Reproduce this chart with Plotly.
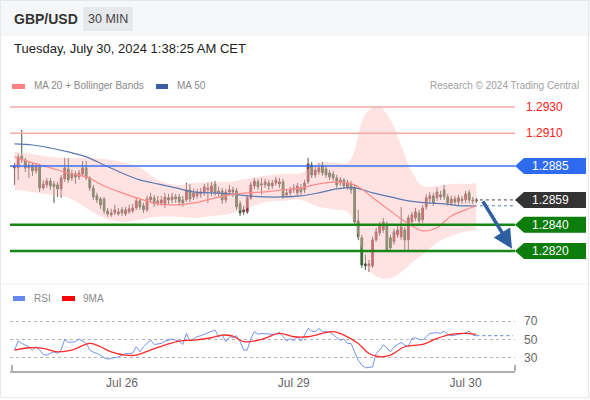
import plotly.graph_objects as go

W, H = 590, 400

# 30 min candles, Jul 25 ~09:00 -> Jul 30 01:30
opens = [1.28835, 1.28835, 1.28926, 1.28896, 1.28835, 1.28857, 1.28812, 1.28850, 1.28682, 1.28705,
         1.28735, 1.28712, 1.28705, 1.28674, 1.28751, 1.28827, 1.28758, 1.28789, 1.28766, 1.28789,
         1.28835, 1.28758, 1.28682, 1.28621, 1.28598, 1.28598, 1.28506, 1.28476, 1.28491, 1.28483,
         1.28514, 1.28483, 1.28499, 1.28506, 1.28529, 1.28583, 1.28545, 1.28514, 1.28590, 1.28606,
         1.28567, 1.28567, 1.28560, 1.28606, 1.28590, 1.28613, 1.28613, 1.28590, 1.28590, 1.28667,
         1.28613, 1.28621, 1.28636, 1.28644, 1.28667, 1.28651, 1.28712, 1.28644, 1.28659, 1.28590,
         1.28651, 1.28667, 1.28659, 1.28560, 1.28499, 1.28499, 1.28606, 1.28697, 1.28728, 1.28705,
         1.28705, 1.28720, 1.28697, 1.28720, 1.28712, 1.28728, 1.28629, 1.28644, 1.28667, 1.28644,
         1.28682, 1.28667, 1.28728, 1.28857, 1.28781, 1.28804, 1.28857, 1.28827, 1.28796, 1.28789,
         1.28758, 1.28720, 1.28743, 1.28690, 1.28712, 1.28682, 1.28430, 1.28300, 1.28101, 1.28086,
         1.28086, 1.28285, 1.28338, 1.28361, 1.28399, 1.28300, 1.28270, 1.28323, 1.28308, 1.28361,
         1.28285, 1.28422, 1.28453, 1.28491, 1.28438, 1.28537, 1.28598, 1.28621, 1.28606, 1.28629,
         1.28667, 1.28613, 1.28567, 1.28598, 1.28575, 1.28598, 1.28590, 1.28644, 1.28590, 1.28583]
highs = [1.28873, 1.28941, 1.29125, 1.28911, 1.28880, 1.28873, 1.28873, 1.28865, 1.28743, 1.28758,
         1.28758, 1.28735, 1.28728, 1.28781, 1.28911, 1.28911, 1.28819, 1.28812, 1.28819, 1.28888,
         1.28888, 1.28774, 1.28705, 1.28644, 1.28613, 1.28613, 1.28529, 1.28522, 1.28552, 1.28529,
         1.28537, 1.28537, 1.28552, 1.28560, 1.28606, 1.28598, 1.28567, 1.28621, 1.28644, 1.28629,
         1.28621, 1.28621, 1.28644, 1.28636, 1.28644, 1.28636, 1.28636, 1.28621, 1.28720, 1.28712,
         1.28674, 1.28674, 1.28682, 1.28712, 1.28720, 1.28728, 1.28735, 1.28690, 1.28682, 1.28674,
         1.28705, 1.28690, 1.28682, 1.28583, 1.28545, 1.28629, 1.28728, 1.28758, 1.28751, 1.28758,
         1.28751, 1.28743, 1.28743, 1.28766, 1.28758, 1.28751, 1.28667, 1.28690, 1.28712, 1.28720,
         1.28712, 1.28743, 1.28911, 1.28880, 1.28850, 1.28873, 1.28880, 1.28850, 1.28819, 1.28812,
         1.28781, 1.28766, 1.28758, 1.28743, 1.28735, 1.28705, 1.28514, 1.28323, 1.28170, 1.28132,
         1.28308, 1.28377, 1.28422, 1.28453, 1.28422, 1.28323, 1.28369, 1.28392, 1.28537, 1.28384,
         1.28476, 1.28499, 1.28529, 1.28514, 1.28552, 1.28636, 1.28651, 1.28644, 1.28682, 1.28659,
         1.28705, 1.28636, 1.28621, 1.28621, 1.28629, 1.28621, 1.28659, 1.28667, 1.28613, 1.28606]
lows = [1.28705, 1.28743, 1.28873, 1.28804, 1.28758, 1.28774, 1.28789, 1.28651, 1.28667, 1.28682,
        1.28667, 1.28567, 1.28613, 1.28606, 1.28728, 1.28720, 1.28735, 1.28712, 1.28743, 1.28766,
        1.28743, 1.28659, 1.28590, 1.28567, 1.28522, 1.28483, 1.28461, 1.28461, 1.28476, 1.28468,
        1.28468, 1.28468, 1.28483, 1.28491, 1.28514, 1.28514, 1.28491, 1.28499, 1.28567, 1.28537,
        1.28545, 1.28545, 1.28529, 1.28560, 1.28567, 1.28567, 1.28545, 1.28537, 1.28575, 1.28575,
        1.28590, 1.28598, 1.28606, 1.28621, 1.28567, 1.28621, 1.28621, 1.28613, 1.28560, 1.28567,
        1.28621, 1.28613, 1.28514, 1.28468, 1.28476, 1.28483, 1.28590, 1.28674, 1.28667, 1.28629,
        1.28682, 1.28667, 1.28674, 1.28697, 1.28682, 1.28598, 1.28606, 1.28621, 1.28644, 1.28621,
        1.28629, 1.28644, 1.28712, 1.28758, 1.28758, 1.28781, 1.28774, 1.28758, 1.28743, 1.28735,
        1.28682, 1.28697, 1.28674, 1.28667, 1.28636, 1.28399, 1.28285, 1.28070, 1.28055, 1.28040,
        1.28070, 1.28270, 1.28316, 1.28338, 1.28193, 1.28209, 1.28247, 1.28300, 1.28285, 1.28209,
        1.28209, 1.28399, 1.28430, 1.28407, 1.28415, 1.28514, 1.28567, 1.28545, 1.28583, 1.28590,
        1.28590, 1.28545, 1.28545, 1.28552, 1.28552, 1.28560, 1.28567, 1.28567, 1.28560, 1.28567]
closes = [1.28850, 1.28919, 1.28896, 1.28835, 1.28857, 1.28812, 1.28850, 1.28682, 1.28712, 1.28735,
          1.28697, 1.28690, 1.28674, 1.28758, 1.28835, 1.28743, 1.28789, 1.28766, 1.28796, 1.28835,
          1.28758, 1.28682, 1.28613, 1.28590, 1.28552, 1.28506, 1.28483, 1.28491, 1.28514, 1.28499,
          1.28491, 1.28514, 1.28522, 1.28529, 1.28583, 1.28537, 1.28514, 1.28598, 1.28613, 1.28560,
          1.28583, 1.28590, 1.28613, 1.28590, 1.28613, 1.28598, 1.28575, 1.28567, 1.28667, 1.28598,
          1.28644, 1.28644, 1.28651, 1.28690, 1.28682, 1.28697, 1.28644, 1.28659, 1.28590, 1.28651,
          1.28667, 1.28651, 1.28537, 1.28491, 1.28514, 1.28606, 1.28705, 1.28735, 1.28690, 1.28712,
          1.28728, 1.28697, 1.28720, 1.28743, 1.28728, 1.28613, 1.28644, 1.28667, 1.28682, 1.28697,
          1.28651, 1.28720, 1.28865, 1.28781, 1.28819, 1.28835, 1.28796, 1.28781, 1.28766, 1.28758,
          1.28705, 1.28743, 1.28697, 1.28720, 1.28667, 1.28422, 1.28308, 1.28093, 1.28086, 1.28101,
          1.28285, 1.28346, 1.28399, 1.28422, 1.28209, 1.28224, 1.28346, 1.28361, 1.28384, 1.28285,
          1.28453, 1.28476, 1.28499, 1.28430, 1.28529, 1.28606, 1.28621, 1.28567, 1.28651, 1.28613,
          1.28613, 1.28567, 1.28598, 1.28575, 1.28606, 1.28583, 1.28636, 1.28590, 1.28583, 1.28590]

# indicator readings
ma50_idx = [0, 5, 10, 15, 20, 25, 30, 35, 40, 45, 50, 55, 60, 65, 70, 75, 80, 85, 90, 95,
            100, 105, 110, 115, 120, 125, 129]
ma50 = [1.29018, 1.29010, 1.28987, 1.28957, 1.28919, 1.28857, 1.28796, 1.28743, 1.28712, 1.28682,
        1.28651, 1.28644, 1.28636, 1.28621, 1.28613, 1.28613, 1.28621, 1.28644, 1.28674, 1.28682,
        1.28644, 1.28613, 1.28583, 1.28567, 1.28560, 1.28545, 1.28545]

band_idx = [0, 5, 10, 15, 20, 25, 30, 35, 40, 45, 50, 55, 60, 65, 70, 75, 80, 85, 90, 93,
            95, 97, 99, 102, 105, 108, 111, 114, 118, 122, 126, 129]
ma20 = [1.28919, 1.28873, 1.28835, 1.28796, 1.28766, 1.28697, 1.28644, 1.28598, 1.28560, 1.28552,
        1.28567, 1.28598, 1.28629, 1.28644, 1.28651, 1.28667, 1.28682, 1.28712, 1.28728, 1.28720,
        1.28705, 1.28674, 1.28629, 1.28567, 1.28506, 1.28445, 1.28392, 1.28354, 1.28377, 1.28468,
        1.28514, 1.28545]
bb_upper = [1.28957, 1.28941, 1.28919, 1.28911, 1.28911, 1.28903, 1.28880, 1.28835, 1.28743, 1.28705,
            1.28720, 1.28728, 1.28728, 1.28751, 1.28774, 1.28789, 1.28796, 1.28873, 1.28873, 1.28873,
            1.28972, 1.29186, 1.29278, 1.29300, 1.29201, 1.29010, 1.28804, 1.28697, 1.28697, 1.28712,
            1.28712, 1.28720]
bb_lower = [1.28667, 1.28651, 1.28629, 1.28606, 1.28529, 1.28453, 1.28422, 1.28438, 1.28461, 1.28461,
            1.28453, 1.28468, 1.28483, 1.28529, 1.28575, 1.28583, 1.28590, 1.28537, 1.28514, 1.28499,
            1.28399, 1.28209, 1.28055, 1.27994, 1.27994, 1.28040, 1.28110, 1.28170, 1.28262, 1.28316,
            1.28346, 1.28361]

rsi = [38.4, 48.2, 45.6, 44.0, 42.0, 38.4, 42.0, 38.4, 33.6, 32.9,
       35.0, 36.5, 34.7, 38.4, 50.0, 46.7, 47.0, 47.5, 50.4, 48.0,
       45.6, 38.4, 36.0, 34.7, 32.9, 30.0, 28.5, 29.3, 30.0, 31.0,
       32.9, 34.7, 34.7, 35.0, 42.0, 36.5, 42.0, 45.6, 49.3, 44.5,
       45.0, 45.6, 48.0, 49.3, 50.4, 49.0, 48.2, 44.5, 56.5, 48.2,
       51.1, 53.0, 54.0, 55.5, 57.0, 58.4, 60.2, 52.9, 55.0, 47.5,
       52.9, 52.0, 54.0, 47.5, 38.4, 38.4, 51.1, 58.4, 55.5, 56.5,
       56.0, 55.5, 55.5, 56.0, 57.6, 52.9, 48.2, 51.0, 48.2, 52.9,
       48.2, 54.7, 62.0, 59.0, 58.4, 62.0, 58.4, 58.4, 58.0, 55.5,
       51.8, 49.3, 50.4, 45.6, 45.6, 36.5, 27.5, 22.0, 19.1, 19.5,
       20.0, 34.7, 38.4, 43.8, 40.9, 36.5, 42.0, 44.5, 46.7, 43.8,
       42.0, 51.1, 51.8, 50.0, 49.3, 52.9, 56.5, 57.0, 57.3, 56.5,
       59.0, 55.5, 54.0, 54.7, 55.5, 55.5, 57.0, 59.0, 54.7, 54.0]
ma9_idx = [0, 4, 8, 12, 16, 21, 24, 27, 31, 34, 38, 42, 46, 50, 55, 58, 61, 64, 69, 74,
           78, 82, 86, 89, 92, 96, 99, 102, 105, 109, 114, 118, 122, 126, 129]
ma9 = [38.4, 40.9, 40.2, 36.5, 38.4, 45.6, 42.0, 36.5, 32.9, 32.9, 38.4, 43.8, 48.2, 49.3, 51.8,
       54.7, 53.6, 47.5, 50.0, 56.5, 52.9, 52.9, 56.5, 58.4, 54.7, 45.6, 34.7, 31.1, 32.9, 42.0,
       44.5, 51.1, 55.5, 56.5, 55.5]

levels_res = [1.2930, 1.2910]
level_pivot = 1.2885
levels_sup = [1.2840, 1.2820]

tick_idx = [30, 78, 126]
tick_txt = ["Jul 26", "Jul 29", "Jul 30"]

idx = list(range(len(closes)))
FONT = "Liberation Sans, Arial, sans-serif"


def px(x):
    return x / W


def py(y):
    return 1 - y / H


fig = go.Figure()

# bollinger band fill
fig.add_trace(go.Scatter(x=band_idx, y=bb_upper, mode="lines", line=dict(width=0, shape="spline"),
                         hoverinfo="skip"))
fig.add_trace(go.Scatter(x=band_idx, y=bb_lower, mode="lines", line=dict(width=0, shape="spline"),
                         fill="tonexty", fillcolor="rgba(255,190,190,0.45)", hoverinfo="skip"))
fig.add_trace(go.Scatter(x=ma50_idx, y=ma50, mode="lines",
                         line=dict(color="#5b79b0", width=1.2, shape="spline")))
fig.add_trace(go.Scatter(x=band_idx, y=ma20, mode="lines",
                         line=dict(color="#ff8a8a", width=1.2, shape="spline")))

fig.add_trace(go.Candlestick(
    x=idx, open=opens, high=highs, low=lows, close=closes,
    increasing=dict(fillcolor="#e01010", line=dict(color="#6a4a4a", width=1)),
    decreasing=dict(fillcolor="#14801a", line=dict(color="#3f5a3f", width=1)),
    whiskerwidth=0,
))

# RSI panel
fig.add_trace(go.Scatter(x=idx, y=rsi, yaxis="y2", mode="lines",
                         line=dict(color="#7393ee", width=1)))
fig.add_trace(go.Scatter(x=ma9_idx, y=ma9, yaxis="y2", mode="lines",
                         line=dict(color="#ff2a2a", width=1.3, shape="spline")))

shapes = []
annos = []

# page chrome
shapes.append(dict(type="rect", xref="paper", yref="paper", x0=0, x1=1, y0=py(36), y1=1,
                   fillcolor="#f6f7f9", line=dict(width=0), layer="below"))
shapes.append(dict(type="rect", xref="paper", yref="paper", x0=px(83), x1=px(133), y0=py(31), y1=py(7),
                   fillcolor="#e7e8eb", line=dict(width=0), layer="below"))
shapes.append(dict(type="line", xref="paper", yref="paper", x0=0, x1=1, y0=py(284), y1=py(284),
                   line=dict(color="#f0f0f2", width=1)))
shapes.append(dict(type="rect", xref="paper", yref="paper", x0=px(0.5), x1=px(588.5), y0=py(397.5), y1=py(0.5),
                   line=dict(color="#e6e8ec", width=1)))

annos.append(dict(text="<b>GBP/USD</b>", x=px(12), y=py(19), xanchor="left", yanchor="middle",
                  font=dict(size=14, color="#333")))
annos.append(dict(text="30 MIN", x=px(108), y=py(19), xanchor="center", yanchor="middle",
                  font=dict(size=12.5, color="#444")))
annos.append(dict(text="Tuesday, July 30, 2024 1:38:25 AM CET", x=px(12), y=py(48),
                  xanchor="left", yanchor="middle", font=dict(size=13, color="#222")))

# legends
shapes.append(dict(type="rect", xref="paper", yref="paper", x0=px(12), x1=px(25), y0=py(89), y1=py(84),
                   fillcolor="#ff8080", line=dict(width=0)))
annos.append(dict(text="MA 20 + Bollinger Bands", x=px(32), y=py(86), xanchor="left", yanchor="middle",
                  font=dict(size=10, color="#8a8a8a")))
shapes.append(dict(type="rect", xref="paper", yref="paper", x0=px(156), x1=px(168), y0=py(89), y1=py(84),
                   fillcolor="#3b5ea0", line=dict(width=0)))
annos.append(dict(text="MA 50", x=px(175), y=py(86), xanchor="left", yanchor="middle",
                  font=dict(size=10, color="#8a8a8a")))
annos.append(dict(text="Research © 2024 Trading Central", x=px(581), y=py(86), xanchor="right",
                  yanchor="middle", font=dict(size=10, color="#a0a0a0")))
shapes.append(dict(type="rect", xref="paper", yref="paper", x0=px(13), x1=px(25), y0=py(301), y1=py(296),
                   fillcolor="#6788ee", line=dict(width=0)))
annos.append(dict(text="RSI", x=px(32), y=py(298), xanchor="left", yanchor="middle",
                  font=dict(size=10, color="#8a8a8a")))
shapes.append(dict(type="rect", xref="paper", yref="paper", x0=px(62), x1=px(75), y0=py(301), y1=py(296),
                   fillcolor="#ff0000", line=dict(width=0)))
annos.append(dict(text="9MA", x=px(81), y=py(298), xanchor="left", yanchor="middle",
                  font=dict(size=10, color="#8a8a8a")))


def hline(level, color, width):
    shapes.append(dict(type="line", xref="paper", yref="y", x0=px(10), x1=px(515), y0=level, y1=level,
                       line=dict(color=color, width=width)))


def tag(level, color, text):
    shapes.append(dict(type="path", xref="paper", yref="y", xsizemode="pixel", ysizemode="pixel",
                       xanchor=px(515), yanchor=level, path="M0,0 L9,8 L71,8 L71,-8 L9,-8 Z",
                       fillcolor=color, line=dict(width=0)))
    annos.append(dict(text=text, x=px(550), y=level, yref="y", xanchor="center", yanchor="middle",
                      font=dict(size=12, color="white")))


for lv in levels_res:
    hline(lv, "#f7a9a9", 1.5)
    annos.append(dict(text=f"{lv:.4f}", x=px(524), y=lv, yref="y", xanchor="left", yanchor="middle",
                      font=dict(size=12, color="#ff2020")))
hline(level_pivot, "#3b6ff2", 1.5)
tag(level_pivot, "#2f6bf0", f"{level_pivot:.4f}")
for lv in levels_sup:
    hline(lv, "#178617", 2.5)
    tag(lv, "#0b7d0b", f"{lv:.4f}")

last = closes[-1]
shapes.append(dict(type="line", xref="x", yref="y", x0=idx[-1] + 1, x1=139.8, y0=last, y1=last,
                   line=dict(color="#444", width=1, dash="dot")))
shapes.append(dict(type="line", xref="x", yref="y", x0=idx[-1] + 1, x1=139.8, y0=ma50[-1], y1=ma50[-1],
                   line=dict(color="#5b79b0", width=1, dash="dot")))
tag(last, "#333333", f"{last:.4f}")

shapes.append(dict(type="line", xref="x", yref="y2", x0=idx[-1], x1=139.2, y0=rsi[-1], y1=rsi[-1],
                   line=dict(color="#7393ee", width=1.2, dash="dot")))

# x axis bracket ends
for xe in (12, 515):
    shapes.append(dict(type="line", xref="paper", yref="paper", x0=px(xe), x1=px(xe), y0=py(371), y1=py(365),
                       line=dict(color="#b0b0b0", width=2)))

# forecast arrow
annos.append(dict(text="", x=px(512), y=1.28216, yref="y", xref="paper", showarrow=True,
                  ax=-30, ay=-49, arrowcolor="#2e5fa3", arrowwidth=3.5, arrowhead=2, arrowsize=1.1,
                  standoff=0))

for a in annos:
    a.setdefault("showarrow", False)
    a.setdefault("xref", "paper")
    a.setdefault("yref", "paper")

fig.update_layout(
    width=W, height=H, autosize=False,
    margin=dict(l=0, r=0, t=0, b=0),
    paper_bgcolor="white", plot_bgcolor="rgba(0,0,0,0)",
    showlegend=False,
    font=dict(family=FONT),
    shapes=shapes, annotations=annos,
    xaxis=dict(domain=[px(10), px(515)], range=[-1.28, 139.8], anchor="y2",
               tickvals=tick_idx, ticktext=tick_txt, ticks="", showgrid=False, zeroline=False,
               showline=True, linecolor="#b0b0b0", linewidth=2,
               tickfont=dict(size=12, color="#666"), rangeslider=dict(visible=False)),
    yaxis=dict(domain=[py(283), py(95)], range=[1.27955, 1.29392], visible=False),
    yaxis2=dict(domain=[py(371), py(310)], range=[15.6, 82], side="right", anchor="x",
                tickvals=[30, 50, 70], ticks="", showgrid=True, gridcolor="#b5b5b5", griddash="dot",
                zeroline=False, showline=False, tickfont=dict(size=12, color="#666"),
                ticklabelstandoff=8),
)

fig.write_html("out.html", config={"displayModeBar": False},
               post_script="document.body.style.margin='0';")
